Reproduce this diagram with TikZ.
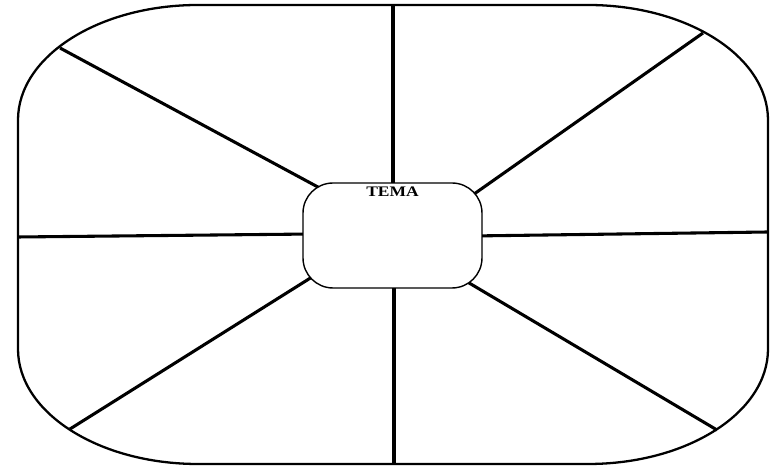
\documentclass[tikz,border=0pt]{standalone}
\usepackage{fontspec}
\setmainfont{Liberation Serif}
\usetikzlibrary{positioning}

\begin{document}
\begin{tikzpicture}[
    x=0.02cm, y=0.02cm,
    frame/.style={draw=black, line width=1.3pt},
    centrebox/.style={rectangle, rounded corners=0.6cm, draw=black, fill=white,
                      line width=0.8pt, minimum width=3.58cm, minimum height=2.1cm},
    spoke/.style={draw=black, line width=1.75pt},
    title/.style={font=\fontsize{8.3}{8.3}\selectfont\bfseries, inner sep=0pt, xscale=1.2}
  ]
    \useasboundingbox (0,0) rectangle (772,466);

    % outer frame with wide corners
    \draw[frame] (18,117) -- (18,346)
      arc[start angle=180, end angle=90, x radius=180, y radius=115] -- (588,461)
      arc[start angle=90, end angle=0, x radius=180, y radius=115] -- (768,117)
      arc[start angle=0, end angle=-90, x radius=180, y radius=115] -- (198,2)
      arc[start angle=270, end angle=180, x radius=180, y radius=115] -- cycle;

    % ends of the spokes on the frame
    \coordinate (top)   at (393,461);
    \coordinate (bot)   at (394,2);
    \coordinate (lft)   at (18,229);
    \coordinate (rgt)   at (768,234);
    \coordinate (ul)    at (60,418);
    \coordinate (ur)    at (703,433);
    \coordinate (ll)    at (70,37);
    \coordinate (lr)    at (717,36);
    % ends hidden under the centre box
    \coordinate (topin) at (393,273);
    \coordinate (botin) at (394,188);
    \coordinate (lftin) at (313,232);
    \coordinate (rgtin) at (472,230);
    \coordinate (ulin)  at (329,273);
    \coordinate (urin)  at (467,267);
    \coordinate (llin)  at (320,194);
    \coordinate (lrin)  at (459,189);

    \draw[spoke] (top) -- (topin);
    \draw[spoke] (bot) -- (botin);
    \draw[spoke] (lft) -- (lftin);
    \draw[spoke] (rgt) -- (rgtin);
    \draw[spoke] (ul)  -- (ulin);
    \draw[spoke] (ur)  -- (urin);
    \draw[spoke] (ll)  -- (llin);
    \draw[spoke] (lr)  -- (lrin);

    \node[centrebox] (tema) at (392.5,230.5) {};
    \node[title, anchor=north, below=0.09cm of tema.north] (temalbl) {TEMA};
  \end{tikzpicture}
\end{document}
